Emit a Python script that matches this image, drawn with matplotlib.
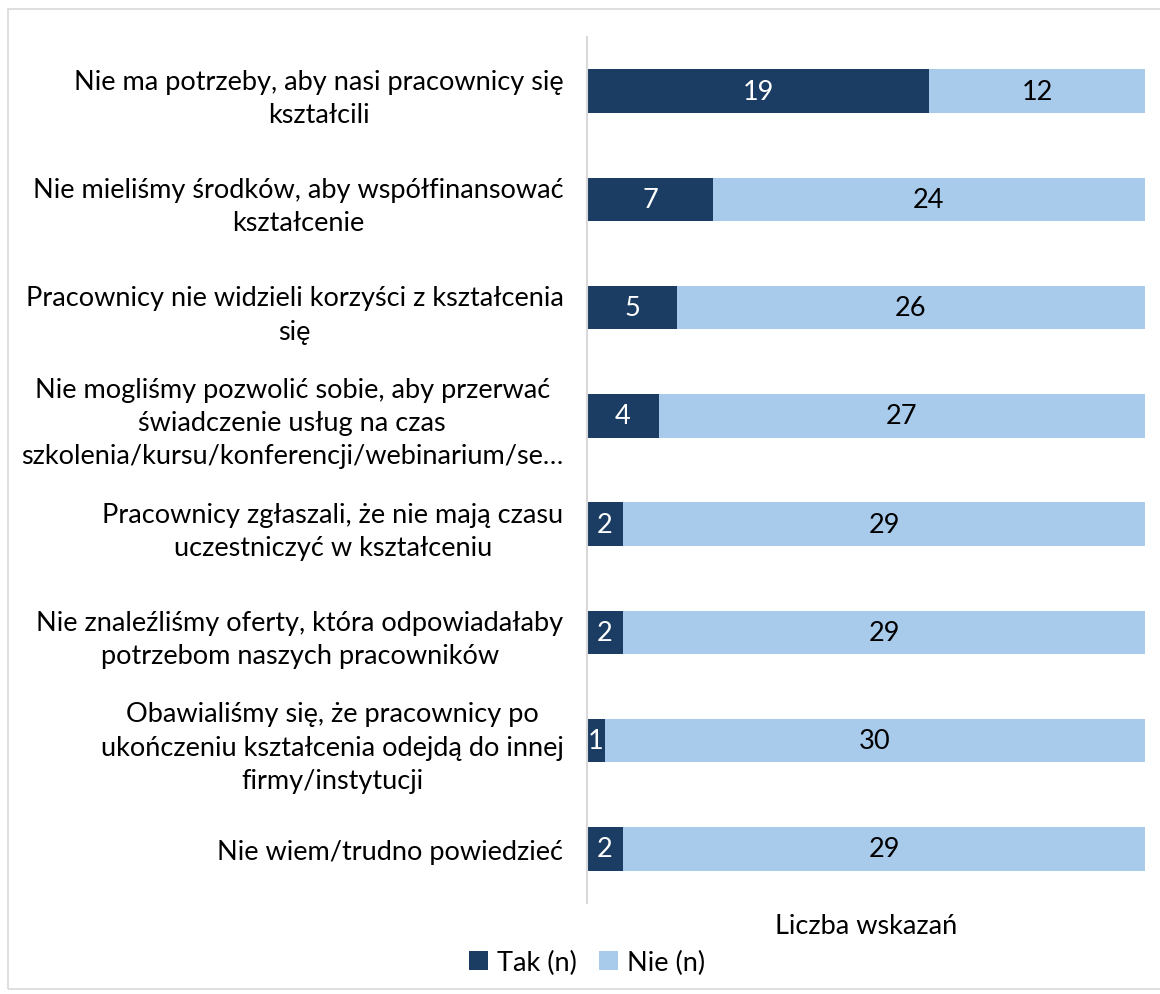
import matplotlib
matplotlib.use("Agg")
import matplotlib.pyplot as plt
from matplotlib.patches import Rectangle

categories = [
    "Nie ma potrzeby, aby nasi pracownicy się\nkształcili",
    "Nie mieliśmy środków, aby współfinansować\nkształcenie",
    "Pracownicy nie widzieli korzyści z kształcenia\nsię",
    "Nie mogliśmy pozwolić sobie, aby przerwać\nświadczenie usług na czas\nszkolenia/kursu/konferencji/webinarium/se…",
    "Pracownicy zgłaszali, że nie mają czasu\nuczestniczyć w kształceniu",
    "Nie znaleźliśmy oferty, która odpowiadałaby\npotrzebom naszych pracowników",
    "Obawialiśmy się, że pracownicy po\nukończeniu kształcenia odejdą do innej\nfirmy/instytucji",
    "Nie wiem/trudno powiedzieć",
]
tak = [19, 7, 5, 4, 2, 2, 1, 2]
nie = [12, 24, 26, 27, 29, 29, 30, 29]
series_names = ["Tak (n)", "Nie (n)"]
x_label = "Liczba wskazań"

dark = "#1b3d64"
light = "#a8caeb"
plt.rcParams['font.family'] = ['Lato', 'DejaVu Sans']
FS = 19.5

W, H = 1160, 995
fig = plt.figure(figsize=(W / 100, H / 100), dpi=100)
fig.patches.append(Rectangle((8 / W, 1 - 990 / H), 1.2, (990 - 10) / H,
                             transform=fig.transFigure, fill=False,
                             edgecolor="#d9d9d9", linewidth=1.2))
ax = fig.add_axes([587 / W, 1 - 904 / H, (1145 - 587) / W, (904 - 38) / H])

y = list(range(len(categories)))
b1 = ax.barh(y, tak, height=0.4, color=dark, label=series_names[0])
b2 = ax.barh(y, nie, left=tak, height=0.4, color=light, label=series_names[1])
for rect, v in zip(b1, tak):
    ax.text(rect.get_x() + rect.get_width() / 2, rect.get_y() + rect.get_height() / 2,
            str(v), ha="center", va="center", color="white", fontsize=FS)
for rect, v in zip(b2, nie):
    ax.text(rect.get_x() + rect.get_width() / 2, rect.get_y() + rect.get_height() / 2,
            str(v), ha="center", va="center", color="black", fontsize=FS)

ax.set_xlim(0, 31)
ax.set_ylim(len(categories) - 0.5, -0.5)
ax.set_yticks(y)
ax.set_yticklabels(categories, fontsize=FS)
for t in ax.get_yticklabels():
    t.set_multialignment("center")
    t.set_linespacing(1.42)
ax.tick_params(axis="y", length=0, pad=17)
ax.set_xticks([])
for s in ["top", "right", "bottom"]:
    ax.spines[s].set_visible(False)
ax.spines["left"].set_color("#d9d9d9")
ax.spines["left"].set_linewidth(1.5)

fig.text(866 / W, 1 - 927 / H, x_label, ha="center", va="center", fontsize=FS)
fig.legend(handles=[b1, b2], labels=series_names, loc="center",
           bbox_to_anchor=(587 / W, 1 - 963 / H), ncol=2, frameon=False,
           fontsize=FS, handlelength=0.7, handleheight=0.7, columnspacing=0.8,
           handletextpad=0.35)

fig.savefig("out.png", dpi=100)
